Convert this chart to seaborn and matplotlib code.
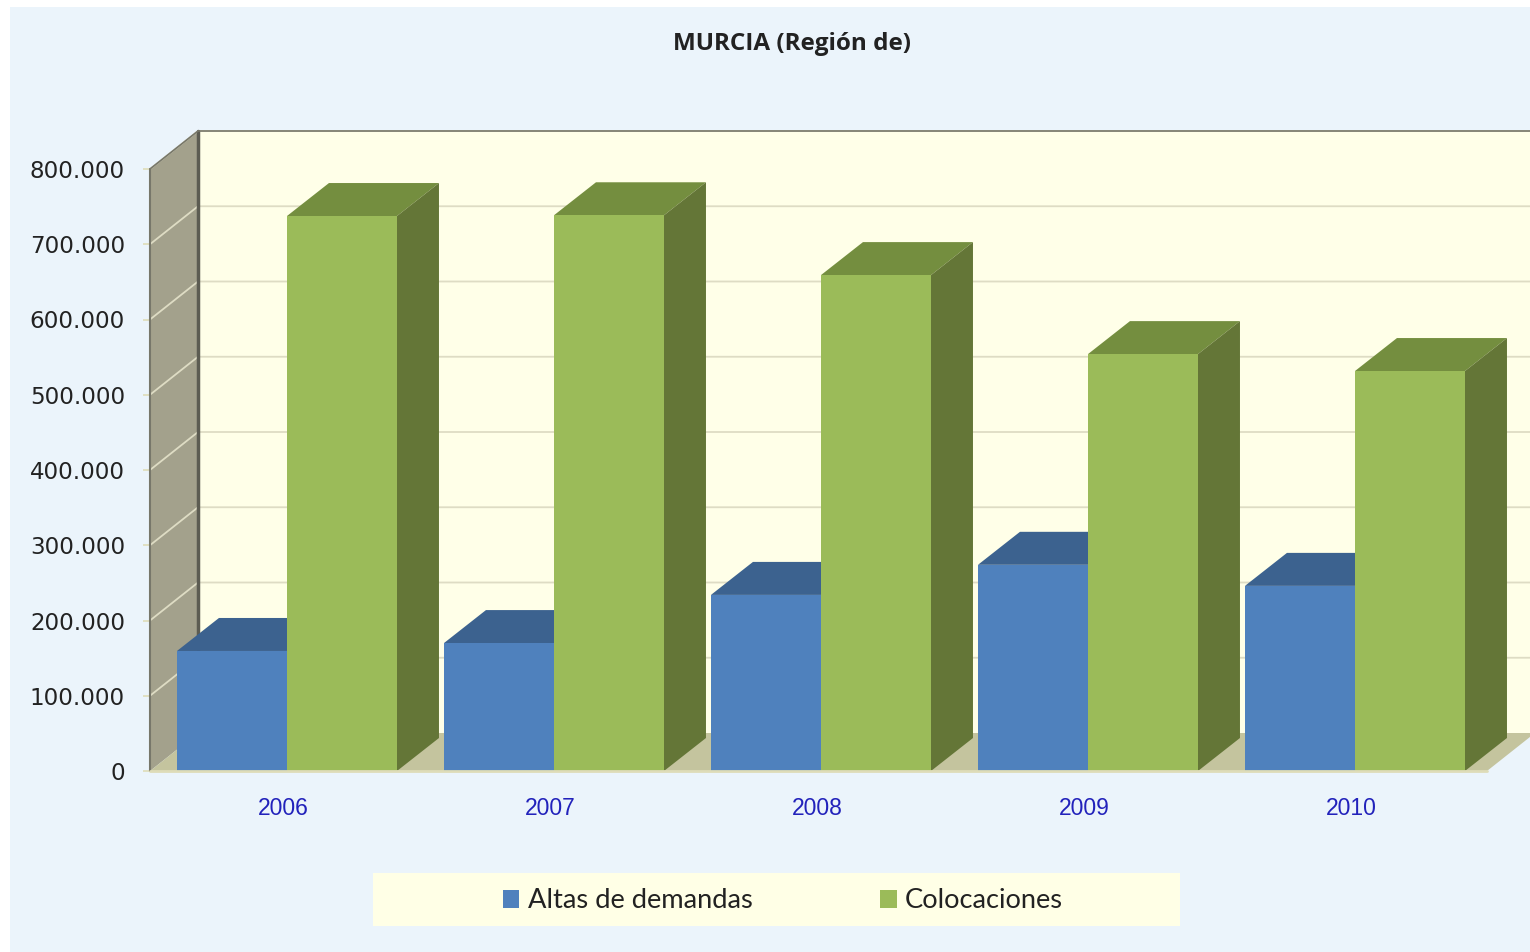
import matplotlib
matplotlib.use('Agg')
import matplotlib.pyplot as plt
import matplotlib.transforms as mtrans
from matplotlib.patches import Polygon, Rectangle
from matplotlib.ticker import FuncFormatter
import pandas as pd
import seaborn as sns

years = ['2006', '2007', '2008', '2009', '2010']
altas = [159500, 170000, 234000, 274000, 246000]
colocaciones = [737500, 738500, 659000, 554000, 531500]
y_ticks = [0, 100000, 200000, 300000, 400000, 500000, 600000, 700000, 800000]
series_names = ['Altas de demandas', 'Colocaciones']

W, H = 1530, 952
BLUE, BLUE_TOP, BLUE_SIDE = '#4F81BD', '#3C628F', '#3C628F'
GREEN, GREEN_TOP, GREEN_SIDE = '#9BBB59', '#748E3F', '#647637'

sns.set_theme(style='white')
plt.rcParams['font.family'] = ['Liberation Sans', 'DejaVu Sans']

df = pd.DataFrame({
    'year': years * 2,
    'value': altas + colocaciones,
    'serie': [series_names[0]] * 5 + [series_names[1]] * 5,
})

fig = plt.figure(figsize=(W / 100, H / 100), dpi=100, facecolor='white')
# light blue chart area, leaves the white strip at left and top
fig.add_artist(Rectangle((10 / W, 0), 1 - 10 / W, 1 - 7 / H, transform=fig.transFigure,
                         fc='#EBF4FB', ec='none', zorder=-10))
# legend band
fig.add_artist(Rectangle((373 / W, 1 - 926 / H), 807 / W, 53 / H, transform=fig.transFigure,
                         fc='#FFFFE6', ec='none', zorder=-9))

ax = fig.add_axes([150 / W, 1 - 771 / H, 1335 / W, 602 / H])
ax.patch.set_alpha(0)

sns.barplot(data=df, x='year', y='value', hue='serie', palette=[BLUE, GREEN],
            width=0.824, gap=0, saturation=1, linewidth=0, ax=ax, zorder=6)

x0, x1 = -0.513, 4.487
ax.set_xlim(x0, x1)
ax.set_ylim(0, 800000)

# size of one pixel in data units, used for the fake 3d depth
px_x = (x1 - x0) / 1335
px_y = 800000 / 602
wall_dx, wall_dy = 48 * px_x, 38 * px_y
bar_dx, bar_dy = 42 * px_x, 33 * px_y
floor_end = x1 + 2 * px_x
wall_right = floor_end + wall_dx + 10 * px_x


def poly(pts, color, z):
    ax.add_patch(Polygon(pts, closed=True, fc=color, ec='none', zorder=z, clip_on=False))


# back wall, side wall and floor
top = 800000 + wall_dy
poly([(x0 + wall_dx, wall_dy), (wall_right, wall_dy), (wall_right, top), (x0 + wall_dx, top)], '#FFFFE8', 0)
poly([(x0, 0), (x0 + wall_dx, wall_dy), (x0 + wall_dx, top), (x0, 800000)], '#A3A18C', 0.5)
poly([(x0, 0), (floor_end, 0), (floor_end + wall_dx, wall_dy), (x0 + wall_dx, wall_dy)], '#C4C49E', 0.5)

# gridlines go along the side wall and then the back wall
for t in y_ticks:
    if t > 0:
        ax.plot([x0, x0 + wall_dx, wall_right], [t, t + wall_dy, t + wall_dy],
                color='#DEDCC4', lw=1.3, zorder=1, clip_on=False)

ax.plot([x0 + wall_dx, x0 + wall_dx], [wall_dy, top], color='#5C5C52', lw=2.5, zorder=2, clip_on=False)
ax.plot([x0, x0], [0, 800000], color='#77776A', lw=1.5, zorder=2, clip_on=False)
ax.plot([x0, x0 + wall_dx, wall_right], [800000, top, top], color='#77776A', lw=1.2, zorder=2, clip_on=False)
ax.plot([x0, floor_end], [0, 0], color='#DEDCB8', lw=2, zorder=7, clip_on=False)

# top and side faces of the bars, taken from the bars seaborn drew
for i, bar in enumerate(ax.patches[:10]):
    bx, bw, bh = bar.get_x(), bar.get_width(), bar.get_height()
    top_c = BLUE_TOP if i < 5 else GREEN_TOP
    side_c = BLUE_SIDE if i < 5 else GREEN_SIDE
    z = 3 if i < 5 else 4
    poly([(bx, bh), (bx + bw, bh), (bx + bw + bar_dx, bh + bar_dy), (bx + bar_dx, bh + bar_dy)], top_c, z)
    poly([(bx + bw, 0), (bx + bw + bar_dx, bar_dy), (bx + bw + bar_dx, bh + bar_dy), (bx + bw, bh)], side_c, z)

sns.despine(ax=ax, left=True, bottom=True, top=True, right=True)
ax.set_xlabel('')
ax.set_ylabel('')
ax.set_yticks(y_ticks)
ax.yaxis.set_major_formatter(FuncFormatter(lambda v, p: f'{int(v):,}'.replace(',', '.')))
ax.tick_params(axis='y', length=5, width=1.2, color='#DEDCB8', pad=13, labelsize=16.6,
               labelcolor='#222222', left=True)
for lab in ax.get_yticklabels():
    lab.set_family('DejaVu Sans')
ax.tick_params(axis='x', length=0, pad=19, labelsize=16.5, labelcolor='#2222BB')
shift = mtrans.ScaledTranslation(-4 / 100, 0, fig.dpi_scale_trans)
for lab in ax.get_xticklabels():
    lab.set_transform(lab.get_transform() + shift)

fig.text(792 / W, 1 - 44 / H, 'MURCIA (Región de)', ha='center', va='center',
         fontsize=17.5, fontweight='bold', family='Open Sans', color='#222222')

leg_font = {'family': 'Lato', 'size': 19.6}
sns.move_legend(ax, loc='center', bbox_to_anchor=(783 / W, 1 - 901 / H),
                bbox_transform=fig.transFigure, ncol=2, frameon=False, title=None,
                prop=leg_font, handlelength=0.6, handleheight=0.6, handletextpad=0.3,
                columnspacing=4.7, labelcolor='#222222')

fig.savefig('out.png', dpi=100, facecolor=fig.get_facecolor())
